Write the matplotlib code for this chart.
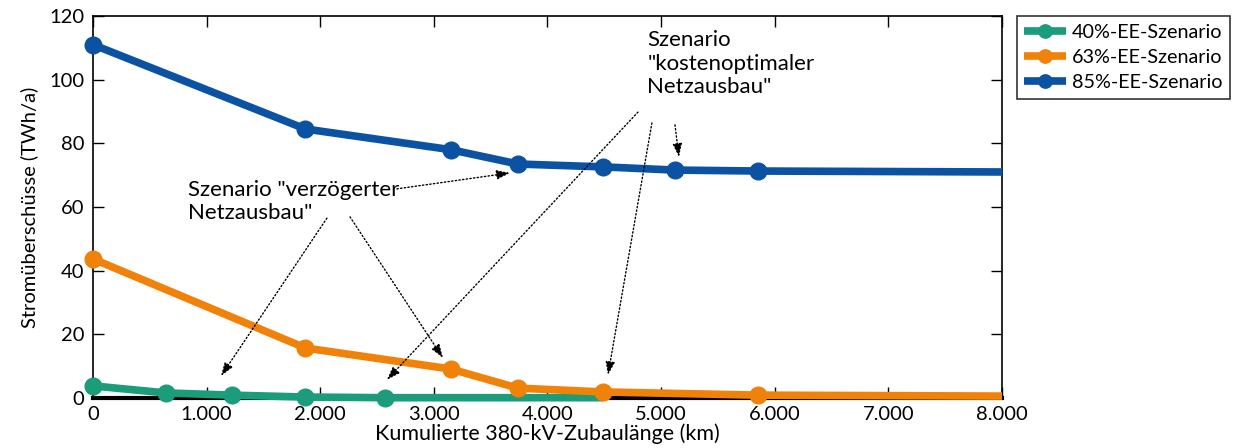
import numpy as np
import matplotlib.pyplot as plt

#==============================================================================
# data
#==============================================================================

x_40 = [0, 640, 1220, 1870, 2570, 4490]
y_40 = [3.8, 1.6, 0.9, 0.3, 0.1, 0.1]

x_63 = [0, 1870, 3150, 3740, 4490, 5850, 8000]
y_63 = [43.7, 15.7, 9.1, 3.1, 1.9, 0.9, 0.6]

x_85 = [0, 1870, 3150, 3740, 4490, 5120, 5850, 8000]
y_85 = [111, 84.5, 78, 73.5, 72.6, 71.6, 71.3, 71.0]

labels = ['40%-EE-Szenario', '63%-EE-Szenario', '85%-EE-Szenario']

x_ticks = [0, 1000, 2000, 3000, 4000, 5000, 6000, 7000, 8000]
x_ticklabels = ['0', '1.000', '2.000', '3.000', '4.000', '5.000',
                '6.000', '7.000', '8.000']
y_ticks = [0, 20, 40, 60, 80, 100, 120]

#==============================================================================
# colors / styles
#==============================================================================

c_green  = '#1b9c7a'
c_orange = '#f0820a'
c_blue   = '#0c52a2'

plt.rcParams['font.family'] = ['Lato', 'DejaVu Sans']

line_kw = {'lw': 5.5, 'marker': 'o', 'ms': 12, 'clip_on': False,
           'solid_capstyle': 'butt'}

arrow_kw = {'arrowstyle': '-|>,head_width=0.28,head_length=0.8',
            'ls': ':', 'lw': 1.0, 'color': 'k', 'shrinkA': 0, 'shrinkB': 0}

font_txt = {'size': 16, 'color': 'k'}

#==============================================================================
# plot
#==============================================================================

fig = plt.figure(figsize=(12.36, 4.48), dpi=100)
ax = fig.add_axes([0.0752, 0.1116, 0.7355, 0.8527])

# green first and lowest, it runs underneath the orange curve on the right
ax.plot(x_40, y_40, color=c_green, markevery=[0, 1, 2, 3, 4], label=labels[0],
        zorder=3, **line_kw)
ax.plot(x_63, y_63, color=c_orange, markevery=[0, 1, 2, 3, 4, 5],
        label=labels[1], zorder=4, **line_kw)
ax.plot(x_85, y_85, color=c_blue, markevery=[0, 1, 2, 3, 4, 5, 6],
        label=labels[2], zorder=4, **line_kw)

ax.set_xlim(0, 8000)
ax.set_ylim(0, 120)
ax.set_xticks(x_ticks)
ax.set_xticklabels(x_ticklabels)
ax.set_yticks(y_ticks)
ax.tick_params(direction='in', length=8, width=1, top=True, right=True,
               labelsize=14.5, pad=6)
for s in ['top', 'left', 'right']:
    ax.spines[s].set_linewidth(1.2)
ax.spines['bottom'].set_linewidth(3)

ax.set_xlabel('Kumulierte 380-kV-Zubaulänge (km)', fontsize=15.5, labelpad=0)
ax.set_ylabel('Stromüberschüsse (TWh/a)', fontsize=14.5, labelpad=8)

# annotations
ax.text(836, 68.5, 'Szenario "verzögerter\nNetzausbau"', va='top', ha='left',
        **font_txt)
ax.text(4880, 115.5, 'Szenario\n"kostenoptimaler\nNetzausbau"', va='top',
        ha='left', **font_txt)

arrows = [
    ((2675, 65.7), (3670, 70.7)),
    ((2059, 56.5), (1127, 6.9)),
    ((2262, 56.9), (3080, 12.6)),
    ((4796, 89.8), (2587, 5.7)),
    ((4919, 86.4), (4532, 7.2)),
    ((5122, 85.8), (5157, 75.7)),
]
for start, tip in arrows:
    ax.annotate('', xy=tip, xytext=start, arrowprops=arrow_kw, zorder=6)

leg = ax.legend(loc='upper left', bbox_to_anchor=(1.016, 1.0),
                fontsize=14.2, frameon=True, fancybox=False, handlelength=2.1,
                handletextpad=0.3, borderpad=0.4, borderaxespad=0,
                labelspacing=0.4, markerscale=0.8)
leg.get_frame().set_edgecolor('k')
leg.get_frame().set_linewidth(1.2)

fig.savefig('out.png', dpi=100)
